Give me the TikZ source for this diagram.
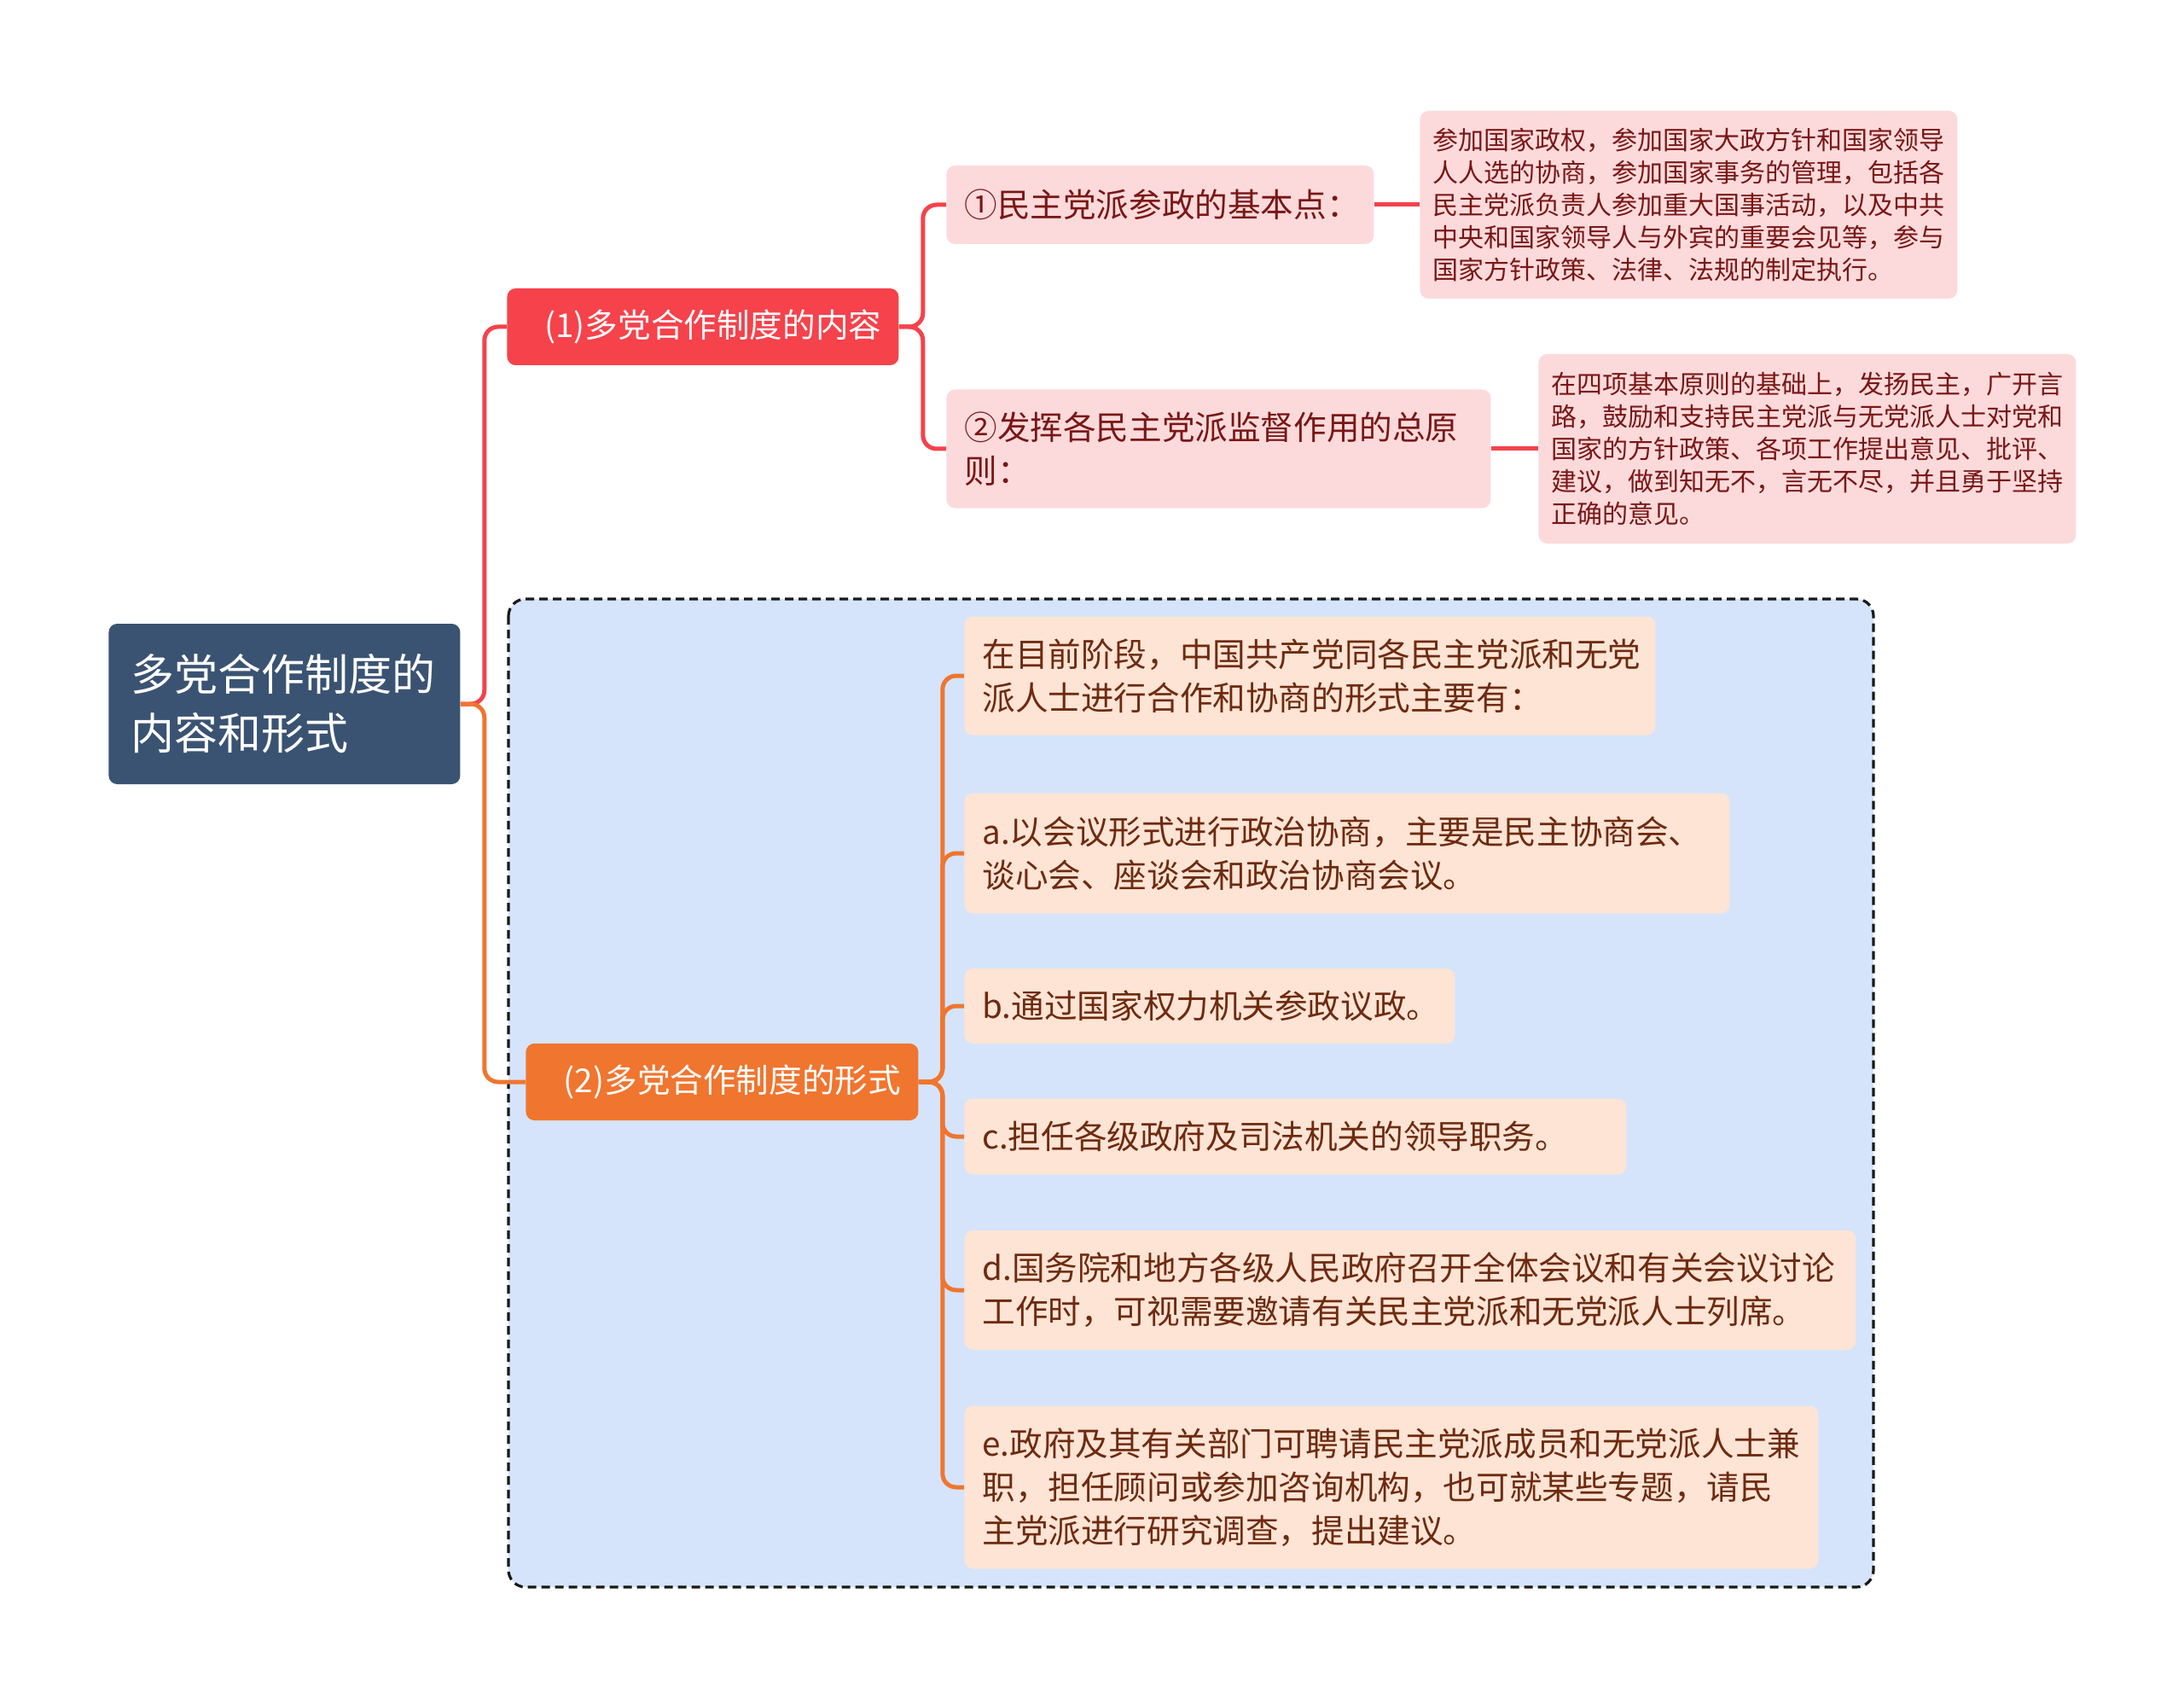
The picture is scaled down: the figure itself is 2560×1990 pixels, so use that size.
\documentclass[tikz,border=0pt]{standalone}
\usepackage{fontspec}
\setmainfont{Noto Sans CJK SC}
\definecolor{root_fill}{HTML}{3A5372}
\definecolor{red_fill}{HTML}{F5424B}
\definecolor{orange_fill}{HTML}{F0752F}
\definecolor{pink_fill}{HTML}{FCDADB}
\definecolor{peach_fill}{HTML}{FDE4D4}
\definecolor{group_fill}{HTML}{D5E4FB}
\definecolor{pink_text}{HTML}{7A1616}
\definecolor{peach_text}{HTML}{6E2A10}

\tikzset{root_node/.style={anchor=west, rectangle, rounded corners=5pt, fill=root_fill, text=white, align=left, inner xsep=13pt, inner ysep=0pt, font=\fontsize{25.5pt}{34.5pt}\selectfont}}
\tikzset{branch_node/.style={anchor=west, rectangle, rounded corners=5pt, text=white, align=center, inner xsep=0pt, inner ysep=0pt, minimum height=45pt, font=\fontsize{19.3pt}{25.5pt}\selectfont}}
\tikzset{pink_node/.style={anchor=west, rectangle, rounded corners=5pt, fill=pink_fill, text=pink_text, align=left, inner xsep=10.5pt, inner ysep=0pt, font=\fontsize{19.3pt}{25.5pt}\selectfont}}
\tikzset{leaf_node/.style={anchor=west, rectangle, rounded corners=5pt, fill=pink_fill, text=pink_text, align=left, inner xsep=7.5pt, inner ysep=0pt, text width=300pt, font=\fontsize{15pt}{19pt}\selectfont}}
\tikzset{peach_node/.style={anchor=west, rectangle, rounded corners=5pt, fill=peach_fill, text=peach_text, align=left, inner xsep=10.5pt, inner ysep=0pt, font=\fontsize{19.3pt}{25.5pt}\selectfont}}
\tikzset{edge_red/.style={draw=red_fill, line width=2.5pt, rounded corners=8pt}}
\tikzset{edge_orange/.style={draw=orange_fill, line width=2.5pt, rounded corners=8pt}}
\tikzset{group_box/.style={draw=black!90, fill=group_fill, line width=1.6pt, dash pattern=on 5pt off 3pt, rounded corners=10pt}}

\begin{document}
\begin{tikzpicture}[x=0.5pt,y=-0.5pt]
    \useasboundingbox (0,0) rectangle (2560,1990);
    \draw[group_box] (596,702) rectangle (2196,1860);

    \node[root_node, minimum width=206pt, minimum height=94pt, text width=180pt] (root) at (127,825) {多党合作制度的\\内容和形式};

    \node[branch_node, fill=red_fill, minimum width=229.5pt, text width=229.5pt] (content) at (594,383) {\hspace*{12pt}(1)多党合作制度的内容};
    \node[branch_node, fill=orange_fill, minimum width=230pt, text width=230pt] (form) at (616,1268) {\hspace*{12pt}(2)多党合作制度的形式};

    \node[pink_node, minimum height=46pt, text width=229.5pt] (point1) at (1109,240) {①民主党派参政的基本点：};
    \node[pink_node, minimum height=69.5pt, text width=298pt] (point2) at (1109,526) {②发挥各民主党派监督作用的总原\\则：};
    \node[leaf_node, minimum height=110pt] (leaf1) at (1664,240) {参加国家政权，参加国家大政方针和国家领导\\人人选的协商，参加国家事务的管理，包括各\\民主党派负责人参加重大国事活动，以及中共\\中央和国家领导人与外宾的重要会见等，参与\\国家方针政策、法律、法规的制定执行。};
    \node[leaf_node, minimum height=111pt] (leaf2) at (1803,526) {在四项基本原则的基础上，发扬民主，广开言\\路，鼓励和支持民主党派与无党派人士对党和\\国家的方针政策、各项工作提出意见、批评、\\建议，做到知无不，言无不尽，并且勇于坚持\\正确的意见。};

    \node[peach_node, minimum height=69.5pt, text width=384pt] (form0) at (1130,792) {在目前阶段，中国共产党同各民主党派和无党\\派人士进行合作和协商的形式主要有：};
    \node[peach_node, minimum height=70.5pt, text width=427.5pt] (forma) at (1130,1000) {a.以会议形式进行政治协商，主要是民主协商会、\\谈心会、座谈会和政治协商会议。};
    \node[peach_node, minimum height=44pt, text width=266.5pt] (formb) at (1130,1179) {b.通过国家权力机关参政议政。};
    \node[peach_node, minimum height=44.5pt, text width=367pt] (formc) at (1130,1332) {c.担任各级政府及司法机关的领导职务。};
    \node[peach_node, minimum height=70pt, text width=501.5pt] (formd) at (1130,1512) {d.国务院和地方各级人民政府召开全体会议和有关会议讨论\\工作时，可视需要邀请有关民主党派和无党派人士列席。};
    \node[peach_node, minimum height=95.5pt, text width=479.5pt] (forme) at (1130,1743) {e.政府及其有关部门可聘请民主党派成员和无党派人士兼\\职，担任顾问或参加咨询机构，也可就某些专题，请民\\主党派进行研究调查，提出建议。};

    % connectors
    \draw[edge_red] (root.east) -- ++(28,0) |- (content.west);
    \draw[edge_orange] (root.east) -- ++(28,0) |- (form.west);
    \foreach \n in {point1,point2}
        \draw[edge_red] (content.east) -- ++(28,0) |- (\n.west);
    \draw[edge_red] (point1.east) -- (leaf1.west);
    \draw[edge_red] (point2.east) -- (leaf2.west);
    \foreach \n in {form0,forma,formb,formc,formd,forme}
        \draw[edge_orange] (form.east) -- ++(28,0) |- (\n.west);
\end{tikzpicture}
\end{document}
